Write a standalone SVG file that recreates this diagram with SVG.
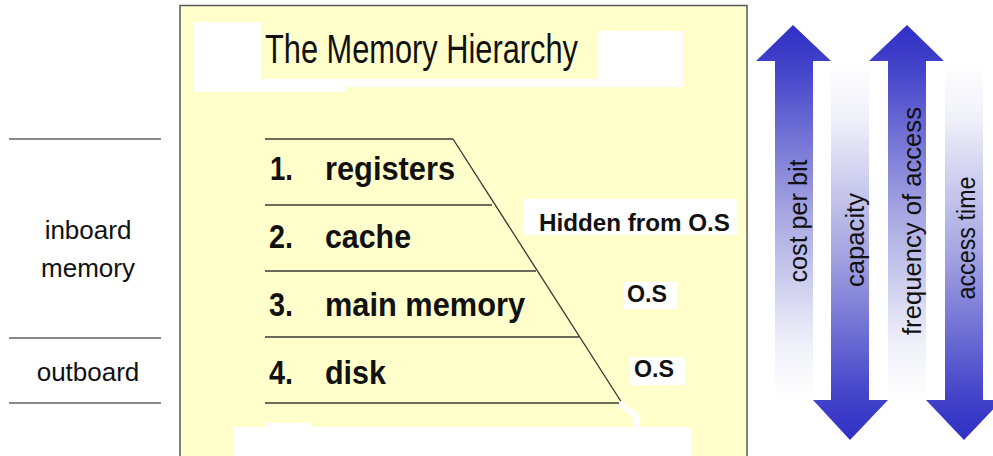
<svg xmlns="http://www.w3.org/2000/svg" width="993" height="456" viewBox="0 0 993 456">
  <style>
    .sans { font-family: "Liberation Sans", Arial, sans-serif; fill: #111; }
    .item { font-size: 34px; font-weight: bold; }
    .side { font-size: 26px; text-anchor: middle; }
    .tag { font-size: 23px; font-weight: bold; }
    .axis { font-size: 25px; text-anchor: middle; }
    .level { stroke: #6b6b5a; stroke-width: 2; }
    .rule { stroke: #8a8a8a; stroke-width: 2; }
    .patch { fill: #ffffff; }
  </style>
  <defs>
    <linearGradient id="gradUp" gradientUnits="userSpaceOnUse" x1="0" y1="25" x2="0" y2="400">
      <stop offset="0" stop-color="#2f2fc6"/>
      <stop offset="0.12" stop-color="#4444ca"/>
      <stop offset="0.5" stop-color="#a6a6e2"/>
      <stop offset="0.85" stop-color="#f0f0fa"/>
      <stop offset="1" stop-color="#ffffff"/>
    </linearGradient>
    <linearGradient id="gradDown" gradientUnits="userSpaceOnUse" x1="0" y1="440" x2="0" y2="62">
      <stop offset="0" stop-color="#2f2fc6"/>
      <stop offset="0.12" stop-color="#4444ca"/>
      <stop offset="0.5" stop-color="#a6a6e2"/>
      <stop offset="0.85" stop-color="#f0f0fa"/>
      <stop offset="1" stop-color="#ffffff"/>
    </linearGradient>
  </defs>

  <rect width="993" height="456" fill="#ffffff"/>

  <!-- left-hand classification -->
  <g id="memory-classes">
    <line class="rule" x1="9" y1="139" x2="161" y2="139"/>
    <line class="rule" x1="9" y1="338" x2="161" y2="338"/>
    <line class="rule" x1="9" y1="403" x2="161" y2="403"/>
    <text class="sans side" x="88" y="239">inboard</text>
    <text class="sans side" x="88" y="277">memory</text>
    <text class="sans side" x="88" y="381">outboard</text>
  </g>

  <!-- slide panel -->
  <g id="panel">
    <rect x="180" y="5.5" width="567" height="470" fill="#ffffcc" stroke="#5a5a5a" stroke-width="1.5"/>
    <rect class="patch" x="194" y="31" width="489" height="56"/>
    <rect class="patch" x="194" y="22" width="67" height="70"/>
    <rect class="patch" x="194" y="86" width="151" height="6"/>
    <rect x="261" y="22" width="336" height="57" fill="#ffffcc"/>
    <rect class="patch" x="234" y="427" width="457" height="40"/>
    <rect class="patch" x="266" y="423" width="46" height="6"/>
  </g>

  <g id="title">
    <text class="sans" x="265" y="63" font-size="41" textLength="313" lengthAdjust="spacingAndGlyphs">The Memory Hierarchy</text>
  </g>

  <!-- pyramid levels -->
  <g id="connectors">
    <line class="level" x1="265" y1="139" x2="453" y2="139"/>
    <line class="level" x1="265" y1="205" x2="492" y2="205"/>
    <line class="level" x1="265" y1="271" x2="536" y2="271"/>
    <line class="level" x1="265" y1="337" x2="579" y2="337"/>
    <line class="level" x1="265" y1="403" x2="622" y2="403"/>
    <line x1="453" y1="139" x2="622" y2="403" stroke="#333333" stroke-width="1.3"/>
    <path d="M622,404 C624,411 636,411 637,420 L637,429" fill="none" stroke="#ffffff" stroke-width="6" stroke-linecap="round"/>
  </g>

  <g id="level-registers">
    <text class="sans item" x="270" y="180" textLength="23" lengthAdjust="spacingAndGlyphs">1.</text>
    <text class="sans item" x="325" y="180" textLength="130" lengthAdjust="spacingAndGlyphs">registers</text>
  </g>
  <g id="level-cache">
    <text class="sans item" x="269" y="248" textLength="24" lengthAdjust="spacingAndGlyphs">2.</text>
    <text class="sans item" x="325" y="248" textLength="86" lengthAdjust="spacingAndGlyphs">cache</text>
  </g>
  <g id="level-main-memory">
    <text class="sans item" x="269" y="316" textLength="24" lengthAdjust="spacingAndGlyphs">3.</text>
    <text class="sans item" x="325" y="316" textLength="200" lengthAdjust="spacingAndGlyphs">main memory</text>
  </g>
  <g id="level-disk">
    <text class="sans item" x="269" y="384" textLength="24" lengthAdjust="spacingAndGlyphs">4.</text>
    <text class="sans item" x="325" y="384" textLength="61" lengthAdjust="spacingAndGlyphs">disk</text>
  </g>

  <!-- visibility tags -->
  <g id="tag-hidden">
    <rect class="patch" x="523" y="199" width="215" height="36"/>
    <text class="sans tag" x="539" y="231" font-size="24" textLength="191" lengthAdjust="spacingAndGlyphs">Hidden from O.S</text>
  </g>
  <g id="tag-os-main">
    <rect class="patch" x="623" y="282" width="54" height="27"/>
    <text class="sans tag" x="627" y="302" textLength="40" lengthAdjust="spacingAndGlyphs">O.S</text>
  </g>
  <g id="tag-os-disk">
    <rect class="patch" x="630" y="357" width="55" height="28"/>
    <text class="sans tag" x="634" y="377" textLength="40" lengthAdjust="spacingAndGlyphs">O.S</text>
  </g>

  <!-- trend arrows -->
  <g id="arrow-cost">
    <polygon points="793,25 831,61 813,61 813,400 775,400 775,61 756,61" fill="url(#gradUp)"/>
    <text class="sans axis" transform="translate(807,221) rotate(-90)" textLength="123" lengthAdjust="spacingAndGlyphs">cost per bit</text>
  </g>
  <g id="arrow-capacity">
    <polygon points="850,440 888,400 869,400 869,62 831,62 831,400 813,400" fill="url(#gradDown)"/>
    <text class="sans axis" transform="translate(864,240) rotate(-90)" textLength="94" lengthAdjust="spacingAndGlyphs">capacity</text>
  </g>
  <g id="arrow-frequency">
    <polygon points="907,25 944,61 926,61 926,400 888,400 888,61 869,61" fill="url(#gradUp)"/>
    <text class="sans axis" transform="translate(921,221) rotate(-90)" textLength="228" lengthAdjust="spacingAndGlyphs">frequency of access</text>
  </g>
  <g id="arrow-access-time">
    <polygon points="964,440 1002,400 983,400 983,62 945,62 945,400 926,400" fill="url(#gradDown)"/>
    <text class="sans axis" transform="translate(975,238) rotate(-90)" textLength="123" lengthAdjust="spacingAndGlyphs">access time</text>
  </g>
</svg>
